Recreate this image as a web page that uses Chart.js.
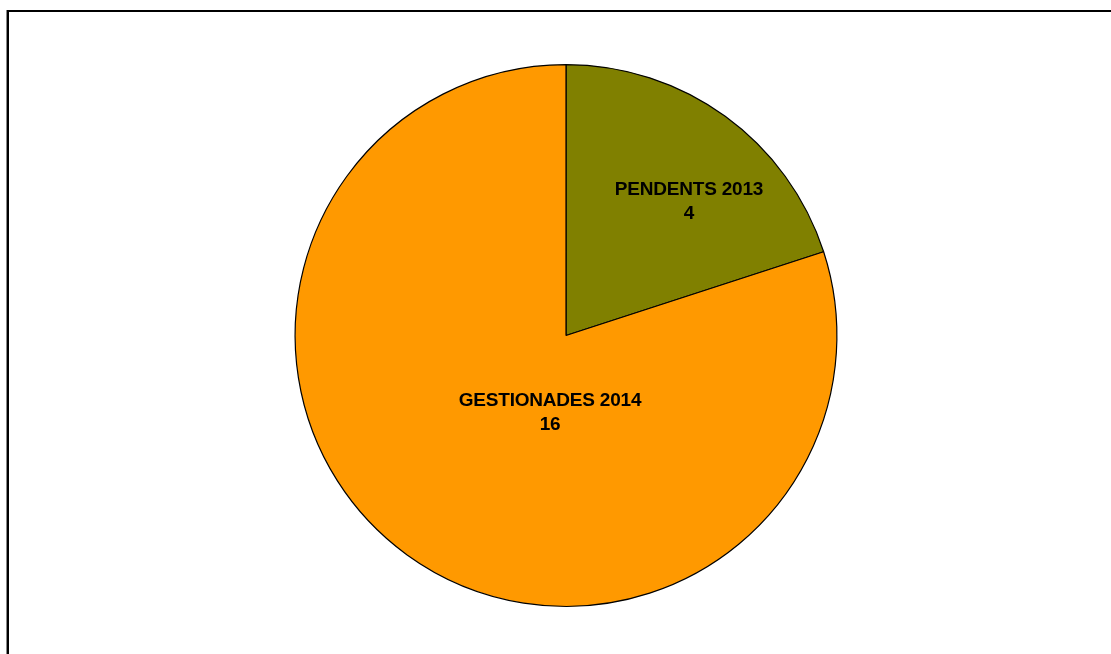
<!DOCTYPE html>
<html>
<head>
<meta charset="utf-8">
<title>Pendents i gestionades</title>
<script src="https://cdn.jsdelivr.net/npm/chart.js@4/dist/chart.umd.min.js"></script>
<style>
    html, body {
        margin: 0;
        padding: 0;
        background: #fff;
        overflow: hidden;
    }
    #wrap {
        position: relative;
        width: 1111px;
        height: 654px;
    }
    /* outer frame, runs off the right and bottom edges */
    #frame {
        position: absolute;
        left: 7px;
        top: 10px;
        width: 1130px;
        height: 700px;
        border: 2px solid #000;
        box-shadow: -1px 0 0 #888;
    }
    #chart {
        position: absolute;
        left: 0;
        top: 0;
    }
</style>
</head>
<body>
<div id="wrap">
    <div id="frame"></div>
    <canvas id="chart" width="1111" height="654"></canvas>
</div>
<script>
// Chart data
const categories = ['PENDENTS 2013', 'GESTIONADES 2014'];
const values = [4, 16];
const sliceColors = ['#808000', '#FF9900'];

// Label anchor for each slice, as fractions of the radius from the centre
const labelAnchors = [
    { x: 0.454, y: -0.494 },
    { x: -0.059, y: 0.284 }
];

/**
 * Draw the category name and value inside each slice
 */
const sliceLabels = {
    id: 'sliceLabels',
    afterDatasetsDraw(chart) {
        const ctx = chart.ctx;
        const meta = chart.getDatasetMeta(0);
        ctx.save();
        ctx.fillStyle = '#000';
        ctx.textAlign = 'center';
        ctx.textBaseline = 'middle';
        ctx.font = 'bold 19px "Liberation Sans", Arial, sans-serif';
        if ('letterSpacing' in ctx) ctx.letterSpacing = '-0.2px';
        meta.data.forEach((arc, i) => {
            const r = arc.outerRadius;
            const cx = arc.x + labelAnchors[i].x * r;
            const cy = arc.y + labelAnchors[i].y * r;
            ctx.fillText(chart.data.labels[i], cx, cy - 12);
            ctx.fillText(String(values[i]), cx, cy + 12);
        });
        ctx.restore();
    }
};

function createChart() {
    const ctx = document.getElementById('chart');
    return new Chart(ctx, {
        type: 'pie',
        data: {
            labels: categories,
            datasets: [{
                data: values,
                backgroundColor: sliceColors,
                borderColor: '#000',
                borderWidth: 1.2
            }]
        },
        options: {
            responsive: false,
            animation: false,
            layout: {
                padding: { top: 64, bottom: 47, left: 21, right: 0 }
            },
            plugins: {
                legend: { display: false },
                tooltip: { enabled: false }
            }
        },
        plugins: [sliceLabels]
    });
}

createChart();
</script>
</body>
</html>
